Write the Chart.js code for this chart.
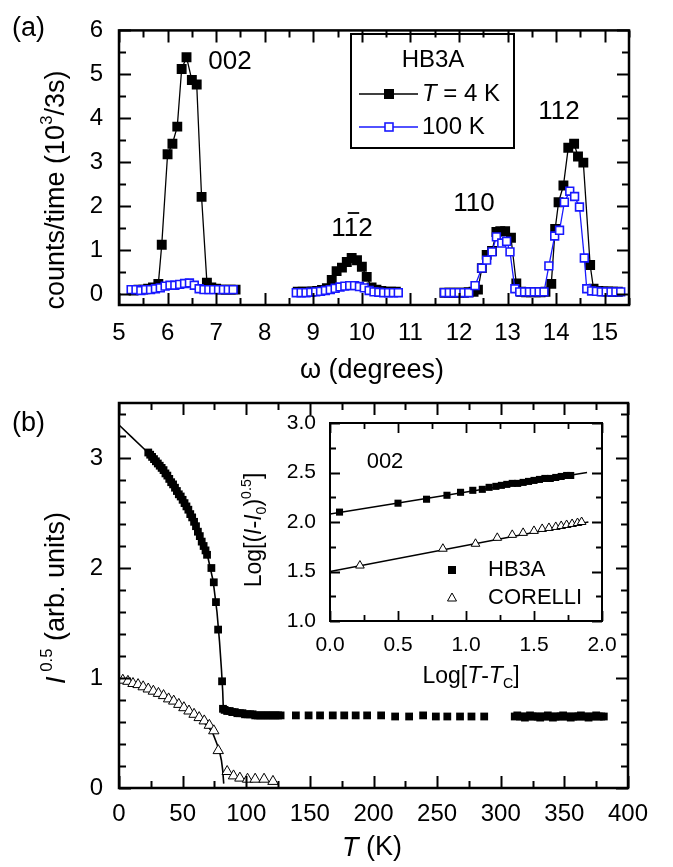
<!DOCTYPE html>
<html>
<head>
<meta charset="utf-8">
<script src="https://cdn.jsdelivr.net/npm/chart.js@4.4.1/dist/chart.umd.min.js"></script>
<style>
  body { margin: 0; background: #fff; }
  canvas { position: absolute; left: 0; top: 0; }
</style>
</head>
<body>
<canvas id="panelA" width="673" height="867"></canvas>
<canvas id="panelB" width="673" height="867"></canvas>
<canvas id="inset" width="673" height="867"></canvas>
<script>
// ---------- panel (a): omega scans, counts/time (10^3/3s) ----------
var om002_4K = [5.3,5.4,5.5,5.6,5.7,5.81,5.88,6.0,6.1,6.2,6.29,6.39,6.5,6.6,6.7,6.81,6.9,7.0,7.1,7.2,7.3,7.4];
var cnt002_4K = [0.08,0.1,0.1,0.12,0.15,0.23,1.12,3.18,3.42,3.81,5.12,5.39,4.87,4.77,2.21,0.26,0.15,0.12,0.1,0.1,0.1,0.1];
var om002_100K = [5.25,5.35,5.45,5.55,5.65,5.75,5.85,5.95,6.05,6.15,6.25,6.35,6.45,6.55,6.65,6.75,6.85,6.95,7.05,7.15,7.25,7.35];
var cnt002_100K = [0.1,0.1,0.08,0.1,0.1,0.12,0.14,0.18,0.2,0.2,0.22,0.24,0.25,0.2,0.12,0.1,0.1,0.1,0.1,0.1,0.1,0.1];

var om1b12_4K = [8.68,8.78,8.88,8.98,9.08,9.18,9.28,9.38,9.48,9.59,9.69,9.79,9.9,10.0,10.1,10.2,10.3,10.4,10.5,10.6,10.7];
var cnt1b12_4K = [0.05,0.05,0.05,0.06,0.07,0.09,0.13,0.32,0.52,0.6,0.73,0.82,0.77,0.62,0.39,0.15,0.1,0.07,0.05,0.05,0.05];
var om1b12_100K = [8.65,8.75,8.85,8.95,9.05,9.15,9.25,9.35,9.45,9.55,9.65,9.75,9.85,9.95,10.05,10.15,10.25,10.35,10.45,10.55,10.65,10.75];
var cnt1b12_100K = [0.03,0.03,0.03,0.04,0.05,0.06,0.08,0.1,0.13,0.16,0.18,0.19,0.19,0.17,0.14,0.08,0.05,0.04,0.03,0.03,0.03,0.03];

var om110_4K = [11.7,11.8,11.9,12.0,12.1,12.2,12.3,12.39,12.47,12.57,12.68,12.77,12.85,12.95,13.07,13.18,13.28,13.38,13.48,13.58,13.68,13.78,13.9,13.98,14.05,14.15,14.25,14.37,14.45,14.56,14.7,14.77,14.87,14.97,15.07,15.17,15.27];
var cnt110_4K = [0.03,0.03,0.03,0.03,0.03,0.04,0.05,0.1,0.59,0.89,0.98,1.41,1.43,1.43,1.28,0.24,0.05,0.04,0.04,0.04,0.04,0.05,0.23,1.48,2.09,2.47,3.33,3.42,3.13,2.99,0.66,0.12,0.07,0.06,0.06,0.05,0.05];
var om110_100K = [11.7,11.8,11.9,12.0,12.1,12.2,12.33,12.47,12.57,12.68,12.77,12.88,12.98,13.05,13.15,13.25,13.35,13.45,13.55,13.65,13.75,13.85,13.97,14.07,14.17,14.28,14.38,14.48,14.58,14.63,14.73,14.83,14.93,15.03,15.13,15.23,15.33];
var cnt110_100K = [0.03,0.03,0.03,0.03,0.03,0.03,0.19,0.59,0.77,0.96,1.3,1.16,1.2,0.96,0.12,0.05,0.05,0.05,0.05,0.05,0.05,0.64,1.32,1.45,2.09,2.34,2.22,1.98,0.82,0.12,0.07,0.06,0.05,0.05,0.05,0.05,0.05];

var xTicksA = [5,6,7,8,9,10,11,12,13,14,15];
var yTicksA = [0,1,2,3,4,5,6];

// ---------- panel (b): I^0.5 vs T ----------
var hbT_low = [23,24.5,26,27.5,29,30.5,32,33.5,35,36.5,38,39.5,41,42.5,44,45.5,47,48.5,50,51.5,53,54.5,56,57.5,59,60.5,62,63.5,65,66.5,68,69.2,72.6,74.5,76.2,77.9,81.0,81.7];
var hbI_low = [3.05,3.03,3.01,2.99,2.97,2.95,2.93,2.91,2.89,2.86,2.84,2.81,2.78,2.76,2.73,2.70,2.67,2.65,2.62,2.59,2.56,2.53,2.49,2.46,2.42,2.38,2.33,2.29,2.24,2.20,2.16,2.12,2.0,1.87,1.69,1.44,0.97,0.72];
var hbT_mid = [83,85,87,89,91,93,95,97,99,101,103,105,107,109,111,113,115,117,119,121,123,125,127,139,149,158,168,177,186,195,206,217,228,239,249,258,268,277,287];
var hbI_mid = [0.71,0.70,0.70,0.69,0.69,0.68,0.68,0.68,0.67,0.67,0.67,0.67,0.66,0.66,0.66,0.66,0.66,0.66,0.66,0.66,0.66,0.66,0.66,0.66,0.66,0.66,0.66,0.66,0.66,0.66,0.66,0.65,0.65,0.66,0.65,0.65,0.65,0.65,0.65];
var hbT_high = [311,313,315,317,319,321,323,325,327,329,331,333,335,337,339,341,343,345,347,349,351,353,355,357,359,361,363,365,367,369,371,373,375,377,379,381];
var hbI_high = [0.65,0.66,0.65,0.65,0.64,0.65,0.66,0.65,0.65,0.65,0.64,0.65,0.65,0.66,0.65,0.64,0.65,0.65,0.65,0.66,0.65,0.65,0.64,0.65,0.65,0.65,0.66,0.65,0.65,0.64,0.65,0.65,0.66,0.65,0.65,0.65];
var corT = [3,7,11,15,19,23,27,31,35,39,43,47,51,55,59,63,67,71,74.5,78,85,90,95,101,107,114,121];
var corI = [0.98,0.97,0.95,0.94,0.92,0.90,0.88,0.86,0.84,0.81,0.79,0.76,0.73,0.70,0.67,0.64,0.61,0.57,0.52,0.34,0.15,0.11,0.09,0.08,0.08,0.08,0.06];
var fitHbT = [0,10,20,30,40,50,60,65,70,74,77,79,80.5,81.5,82,84];
var fitHbI = [3.30,3.19,3.08,2.96,2.81,2.62,2.38,2.24,2.09,1.88,1.60,1.33,1.08,0.88,0.72,0.70];
var fitCorT = [0,10,20,30,40,50,60,65,70,74,77,79,80.5,81.5,82.3];
var fitCorI = [0.985,0.96,0.92,0.87,0.81,0.74,0.66,0.61,0.56,0.49,0.40,0.33,0.25,0.16,0.04];

var xTicksB = [0,50,100,150,200,250,300,350,400];
var yTicksB = [0,1,2,3];

// ---------- inset: Log[(I-I0)^0.5] vs Log[T-Tc] ----------
var inHbX = [0.07,0.5,0.71,0.86,0.96,1.05,1.12,1.17,1.22,1.26,1.3,1.34,1.38,1.42,1.46,1.5,1.54,1.58,1.62,1.66,1.7,1.74,1.77];
var inHbY = [2.1,2.19,2.23,2.27,2.3,2.32,2.33,2.35,2.36,2.37,2.38,2.39,2.39,2.4,2.41,2.42,2.43,2.44,2.44,2.45,2.46,2.47,2.47];
var inCoX = [0.22,0.83,1.07,1.23,1.34,1.42,1.5,1.56,1.61,1.66,1.7,1.74,1.78,1.82,1.85];
var inCoY = [1.56,1.73,1.78,1.84,1.87,1.89,1.91,1.93,1.94,1.95,1.96,1.97,1.98,1.99,2.0];
var inFitHbX = [0,1.89], inFitHbY = [2.08,2.5];
var inFitCoX = [0,1.9], inFitCoY = [1.5,2.0];
var xTicksIn = [0,0.5,1,1.5,2];
var yTicksIn = [1,1.5,2,2.5,3];

var FONT = "'Liberation Sans', Arial, sans-serif";
var BLUE = 'rgb(25,25,255)';
Chart.defaults.font.family = FONT;
Chart.defaults.color = '#000';
Chart.defaults.animation = false;

function pts(xs, ys) {
  return xs.map(function (x, i) { return {x: x, y: ys[i]}; });
}
function setTicks(list) {
  return function (scale) { scale.ticks = list.map(function (v) { return {value: v}; }); };
}
function steps(a, b, s) {
  var out = [];
  for (var v = a; v <= b + 1e-9; v += s) out.push(Math.round(v * 1000) / 1000);
  return out;
}

// rich text: parts = [[text, flags]], flags: i italic, u superscript, d subscript
function fontFor(f, size) {
  var s = (f.indexOf('u') >= 0 || f.indexOf('d') >= 0) ? size * 0.62 : size;
  return (f.indexOf('i') >= 0 ? 'italic ' : '') + s + 'px ' + FONT;
}
function drawRich(ctx, parts, x, y, size, align, rot) {
  ctx.save();
  ctx.translate(x, y);
  if (rot) ctx.rotate(-Math.PI / 2);
  ctx.textBaseline = 'middle';
  ctx.textAlign = 'left';
  ctx.fillStyle = '#000';
  var w = 0;
  parts.forEach(function (p) { ctx.font = fontFor(p[1] || '', size); w += ctx.measureText(p[0]).width; });
  var cx = align === 'left' ? 0 : -w / 2;
  parts.forEach(function (p) {
    var f = p[1] || '';
    ctx.font = fontFor(f, size);
    var dy = f.indexOf('u') >= 0 ? -size * 0.36 : (f.indexOf('d') >= 0 ? size * 0.32 : 0);
    ctx.fillText(p[0], cx, dy);
    cx += ctx.measureText(p[0]).width;
  });
  ctx.restore();
}

// frame with inward major/minor ticks on all four sides
function framePlugin(o) {
  return {
    id: 'frame',
    beforeDraw: function (chart) {
      if (!o.fill) return;
      var a = chart.chartArea, ctx = chart.ctx;
      ctx.save();
      ctx.fillStyle = '#fff';
      ctx.fillRect(a.left, a.top, a.right - a.left, a.bottom - a.top);
      ctx.restore();
    },
    afterDatasetsDraw: function (chart) {
      var ctx = chart.ctx, a = chart.chartArea, sx = chart.scales.x, sy = chart.scales.y;
      ctx.save();
      ctx.strokeStyle = '#000';
      ctx.lineWidth = o.tickWidth;
      ctx.beginPath();
      function xt(list, len) {
        list.forEach(function (v) {
          var p = Math.round(sx.getPixelForValue(v)) + 0.5;
          ctx.moveTo(p, a.bottom); ctx.lineTo(p, a.bottom - len);
          ctx.moveTo(p, a.top); ctx.lineTo(p, a.top + len);
        });
      }
      function yt(list, len) {
        list.forEach(function (v) {
          var p = Math.round(sy.getPixelForValue(v)) + 0.5;
          ctx.moveTo(a.left, p); ctx.lineTo(a.left + len, p);
          ctx.moveTo(a.right, p); ctx.lineTo(a.right - len, p);
        });
      }
      xt(o.xMajor, o.major); xt(o.xMinor, o.minor);
      yt(o.yMajor, o.major); yt(o.yMinor, o.minor);
      ctx.stroke();
      ctx.lineWidth = o.frameWidth;
      ctx.strokeRect(a.left, a.top, a.right - a.left, a.bottom - a.top);
      ctx.restore();
    }
  };
}

function textPlugin(fn) {
  return { id: 'notes', afterDraw: function (chart) { fn(chart.ctx); } };
}

function axisOpts(min, max, ticks, fontSize, pad, fit, fmt) {
  return {
    type: 'linear', min: min, max: max,
    grid: {display: false, drawTicks: false},
    border: {display: false},
    afterBuildTicks: setTicks(ticks),
    afterFit: fit,
    ticks: {
      font: {size: fontSize}, padding: pad, maxRotation: 0, autoSkip: false,
      callback: fmt || function (v) { return String(v); }
    }
  };
}

function lineSet(xs, ys, color, width, order) {
  return {data: pts(xs, ys), showLine: true, borderColor: color, borderWidth: width,
          pointRadius: 0, tension: 0, order: order};
}
function markSet(xs, ys, opt) {
  return Object.assign({data: pts(xs, ys), showLine: false, tension: 0}, opt);
}

// ---------- panel (a) chart ----------
var black4K = {showLine: true, borderColor: '#000', borderWidth: 1.3, pointStyle: 'rect', pointRadius: 7,
  pointBackgroundColor: '#000', pointBorderColor: '#000', pointBorderWidth: 0, order: 2};
var blue100K = {showLine: true, borderColor: BLUE, borderWidth: 1.3, pointStyle: 'rect', pointRadius: 5.5,
  pointBackgroundColor: '#fff', pointBorderColor: BLUE, pointBorderWidth: 1.6, order: 1};

new Chart(document.getElementById('panelA'), {
  type: 'scatter',
  data: {datasets: [
    markSet(om002_4K, cnt002_4K, black4K),
    markSet(om1b12_4K, cnt1b12_4K, black4K),
    markSet(om110_4K, cnt110_4K, black4K),
    markSet(om002_100K, cnt002_100K, blue100K),
    markSet(om1b12_100K, cnt1b12_100K, blue100K),
    markSet(om110_100K, cnt110_100K, blue100K)
  ]},
  options: {
    responsive: false,
    layout: {padding: {left: 0, top: 15, right: 44, bottom: 0}},
    plugins: {legend: {display: false}, tooltip: {enabled: false}},
    scales: {
      x: axisOpts(5, 15.5, xTicksA, 24, 14, function (s) { s.height = 867 - 305; }),
      y: axisOpts(-0.25, 6, yTicksA, 24, 16, function (s) { s.width = 119; })
    }
  },
  plugins: [
    framePlugin({xMajor: xTicksA, xMinor: steps(5.5, 15.5, 1), yMajor: yTicksA, yMinor: steps(0.5, 5.5, 1),
                 major: 12, minor: 7, tickWidth: 2, frameWidth: 2.5}),
    textPlugin(function (ctx) {
      drawRich(ctx, [['(a)']], 12, 29, 27, 'left');
      drawRich(ctx, [['counts/time (10'], ['3', 'u'], ['/3s)']], 57, 190, 27, 'center', true);
      drawRich(ctx, [['\u03c9 (degrees)']], 372, 371, 27, 'center');
      drawRich(ctx, [['002']], 230, 62, 26, 'center');
      drawRich(ctx, [['110']], 474, 204, 26, 'center');
      drawRich(ctx, [['112']], 559, 112, 26, 'center');
      // 1-bar-1-2 label
      drawRich(ctx, [['112']], 352, 229, 26, 'center');
      ctx.save();
      ctx.font = '26px ' + FONT;
      var w1 = ctx.measureText('1').width, wt = ctx.measureText('112').width;
      var x0 = 352 - wt / 2 + w1;
      ctx.strokeStyle = '#000'; ctx.lineWidth = 1.8;
      ctx.beginPath(); ctx.moveTo(x0 + 2, 213); ctx.lineTo(x0 + w1 - 1, 213); ctx.stroke();
      // legend
      ctx.lineWidth = 2;
      ctx.strokeRect(351, 34, 163, 114);
      ctx.restore();
      drawRich(ctx, [['HB3A']], 433, 60, 24, 'center');
      ctx.save();
      ctx.lineWidth = 1.3;
      ctx.strokeStyle = '#000';
      ctx.beginPath(); ctx.moveTo(359, 94); ctx.lineTo(418, 94); ctx.stroke();
      ctx.fillStyle = '#000'; ctx.fillRect(384, 89, 10, 10);
      ctx.strokeStyle = BLUE;
      ctx.beginPath(); ctx.moveTo(359, 127); ctx.lineTo(418, 127); ctx.stroke();
      ctx.fillStyle = '#fff'; ctx.fillRect(385, 123, 8, 8);
      ctx.lineWidth = 1.6; ctx.strokeRect(385, 123, 8, 8);
      ctx.restore();
      drawRich(ctx, [['T', 'i'], [' = 4 K']], 422, 94, 24, 'left');
      drawRich(ctx, [['100 K']], 422, 127, 24, 'left');
    })
  ]
});

// ---------- panel (b) chart ----------
var hbSquares = {pointStyle: 'rect', pointRadius: 5.5, pointBackgroundColor: '#000', pointBorderColor: '#000',
  pointBorderWidth: 0, order: 1};
new Chart(document.getElementById('panelB'), {
  type: 'scatter',
  data: {datasets: [
    markSet(corT, corI, {pointStyle: 'triangle', pointRadius: 6, pointBackgroundColor: '#fff',
      pointBorderColor: '#000', pointBorderWidth: 1, order: 1}),
    markSet(hbT_low, hbI_low, hbSquares),
    markSet(hbT_mid, hbI_mid, hbSquares),
    markSet(hbT_high, hbI_high, hbSquares),
    lineSet(fitHbT, fitHbI, '#000', 1.6, 3),
    lineSet(fitCorT, fitCorI, '#000', 1.6, 3)
  ]},
  options: {
    responsive: false,
    layout: {padding: {left: 0, top: 403, right: 45, bottom: 0}},
    plugins: {legend: {display: false}, tooltip: {enabled: false}},
    scales: {
      x: axisOpts(0, 400, xTicksB, 24, 12, function (s) { s.height = 867 - 788; }),
      y: axisOpts(0, 3.5, yTicksB, 24, 16, function (s) { s.width = 119; })
    }
  },
  plugins: [
    framePlugin({xMajor: xTicksB, xMinor: steps(25, 375, 50), yMajor: yTicksB,
                 yMinor: steps(0.2, 3.4, 0.2).filter(function (v) { return Math.abs(v - Math.round(v)) > 0.01; }),
                 major: 12, minor: 7, tickWidth: 2, frameWidth: 2.5}),
    textPlugin(function (ctx) {
      drawRich(ctx, [['(b)']], 12, 424, 27, 'left');
      drawRich(ctx, [['I', 'i'], [' 0.5', 'u'], [' (arb. units)']], 57, 598, 27, 'center', true);
      drawRich(ctx, [['T', 'i'], [' (K)']], 372, 848, 27, 'center');
    })
  ]
});

// ---------- inset chart ----------
new Chart(document.getElementById('inset'), {
  type: 'scatter',
  data: {datasets: [
    markSet(inHbX, inHbY, {pointStyle: 'rect', pointRadius: 5, pointBackgroundColor: '#000',
      pointBorderColor: '#000', pointBorderWidth: 0, order: 1}),
    markSet(inCoX, inCoY, {pointStyle: 'triangle', pointRadius: 5, pointBackgroundColor: '#fff',
      pointBorderColor: '#000', pointBorderWidth: 1, order: 1}),
    lineSet(inFitHbX, inFitHbY, '#000', 1.6, 3),
    lineSet(inFitCoX, inFitCoY, '#000', 1.6, 3)
  ]},
  options: {
    responsive: false,
    layout: {padding: {left: 0, top: 423, right: 71, bottom: 0}},
    plugins: {legend: {display: false}, tooltip: {enabled: false}},
    scales: {
      x: axisOpts(0, 2, xTicksIn, 21, 12, function (s) { s.height = 867 - 621; },
                  function (v) { return v.toFixed(1); }),
      y: axisOpts(1, 3, yTicksIn, 21, 14, function (s) { s.width = 330; },
                  function (v) { return v.toFixed(1); })
    }
  },
  plugins: [
    framePlugin({fill: true, xMajor: xTicksIn, xMinor: steps(0.25, 1.75, 0.5), yMajor: yTicksIn,
                 yMinor: steps(1.25, 2.75, 0.5), major: 10, minor: 6, tickWidth: 1.8, frameWidth: 2}),
    textPlugin(function (ctx) {
      drawRich(ctx, [['Log[(', ''], ['I', 'i'], ['-'], ['I', 'i'], ['0', 'd'], [')'], ['0.5', 'u'], [']']],
               255, 530, 23, 'center', true);
      drawRich(ctx, [['Log['], ['T', 'i'], ['-'], ['T', 'i'], ['C', 'd'], [']']], 471, 677, 23, 'center');
      drawRich(ctx, [['002']], 385, 462, 22, 'center');
      ctx.save();
      ctx.fillStyle = '#000';
      ctx.fillRect(448, 566, 8, 8);
      ctx.strokeStyle = '#000'; ctx.lineWidth = 1;
      ctx.beginPath(); ctx.moveTo(452, 593); ctx.lineTo(456.5, 601); ctx.lineTo(447.5, 601); ctx.closePath(); ctx.stroke();
      ctx.restore();
      drawRich(ctx, [['HB3A']], 488, 570, 22, 'left');
      drawRich(ctx, [['CORELLI']], 488, 598, 22, 'left');
    })
  ]
});
</script>
</body>
</html>
